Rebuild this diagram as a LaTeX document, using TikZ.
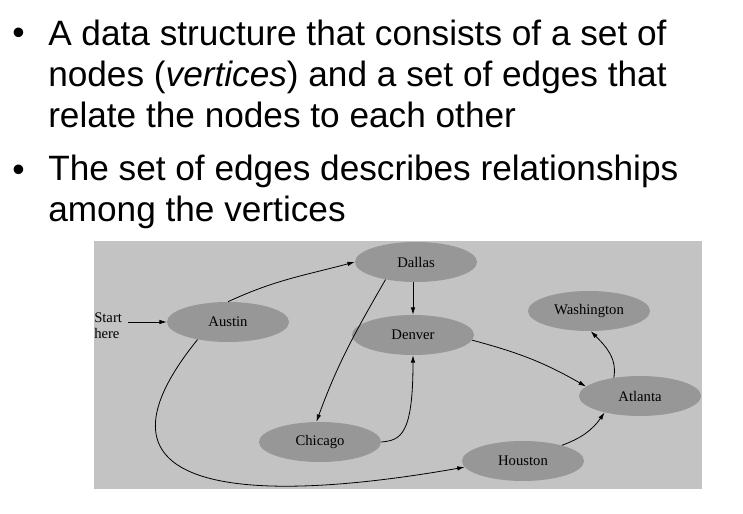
\documentclass[tikz,border=0pt]{standalone}
\usepackage{fontspec}
\setmainfont{Liberation Sans}
\newfontfamily\cityfont{Liberation Serif}
\usetikzlibrary{arrows.meta,shapes.geometric}
\definecolor{bgGray}{HTML}{C3C3C3}
\definecolor{cityGray}{HTML}{979797}

\begin{document}
\begin{tikzpicture}[x=0.75pt,y=0.75pt,
  city/.style={ellipse,fill=cityGray,minimum width=91.5pt,minimum height=30pt,inner sep=0pt,font=\cityfont\fontsize{11}{12}\selectfont},
  edge/.style={-{Latex[length=5.5pt,width=3.4pt]},line width=0.6pt},
  txt/.style={inner sep=0pt,font=\fontsize{26.4}{31.1}\selectfont}]
  \useasboundingbox (0,0) rectangle (743,514);
  % bullet points (multi-line nodes sit on their last baseline)
  \node[txt,anchor=base west] (dotA) at (12,469) {\textbullet};
  \node[txt,anchor=base west,align=left] (itemA) at (48,386)
    {A data structure that consists of a set of\\nodes (\textit{vertices}) and a set of edges that\\relate the nodes to each other};
  \node[txt,anchor=base west] (dotB) at (12,332) {\textbullet};
  \node[txt,anchor=base west,align=left] (itemB) at (48,292)
    {The set of edges describes relationships\\among the vertices};
  % graph
  \fill[bgGray] (94,25) rectangle (702,273);
  \foreach \nm/\lbl/\x/\y in {dallas/Dallas/416/252, austin/Austin/228/192,
      denver/Denver/413/179, washington/Washington/589/203,
      chicago/Chicago/320/72, atlanta/Atlanta/640/118, houston/Houston/523/53}
    \node[city] (\nm) at (\x,\y) {\lbl};
  \node[anchor=west,align=left,inner sep=0pt,font=\cityfont\fontsize{11}{12}\selectfont] (start) at (94,188) {Start\\here};
  \draw[edge,shorten <=4.5pt] (start.east |- austin.west) -- (austin.west);
  \draw[edge] (austin.north) to[out=25,in=195] (dallas.west);
  \draw[edge] (dallas.south -| denver.north) -- (denver.north);
  \draw[edge] (dallas.210) to[out=240,in=70] (chicago.100);
  \draw[edge] (chicago.east) to[out=5,in=-90,out looseness=0.55,in looseness=2.2] (denver.south);
  \draw[edge] (denver.-5) to[out=-15,in=150] (atlanta.170);
  \draw[edge] (atlanta.145) to[out=80,in=-45] (washington.-85);
  \draw[edge] (houston.22) to[out=20,in=-125] (atlanta.205);
  \draw[edge] (austin.210) .. controls +(231:200) and +(190:220) .. (houston.186);
\end{tikzpicture}
\end{document}
